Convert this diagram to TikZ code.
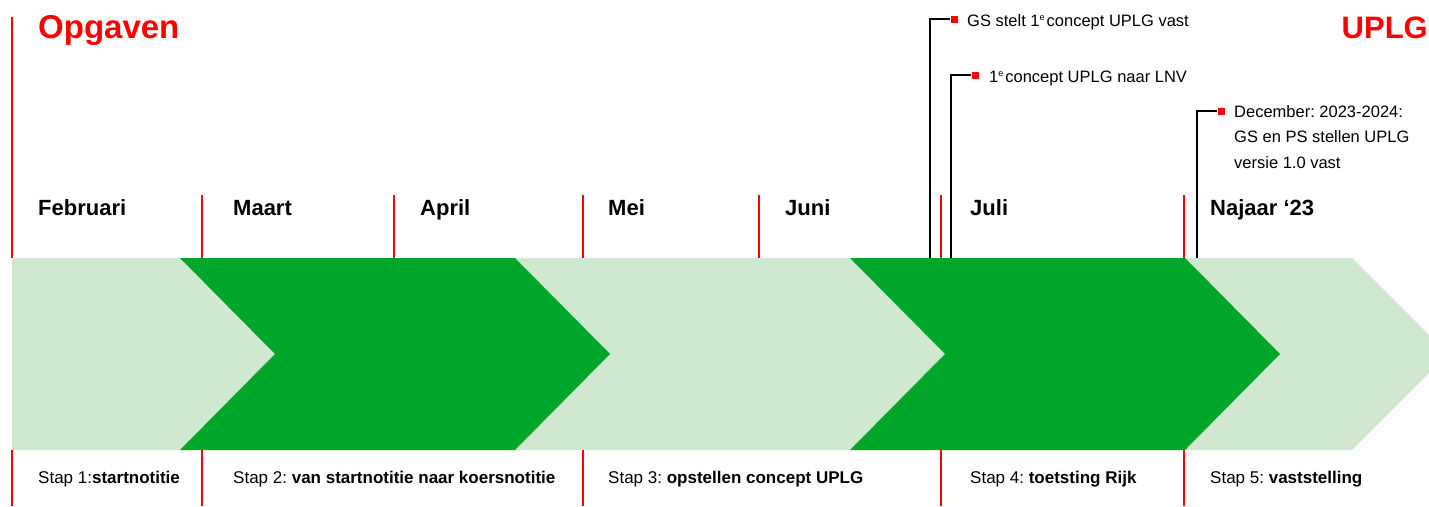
\documentclass[tikz,border=0pt]{standalone}
\usepackage{fontspec}
\setmainfont{Liberation Sans}
\frenchspacing
\definecolor{lightg}{HTML}{D1E8D0}
\definecolor{darkg}{HTML}{00A62A}
\definecolor{uplgred}{HTML}{FF0000}
\newcommand{\supe}{\raisebox{0.62ex}{\fontsize{9}{9}\selectfont e}}
\tikzset{
  redline/.style={draw=uplgred, line width=1.1pt},
  blackline/.style={draw=black, line width=1.1pt},
  month/.style={anchor=base west, inner sep=0pt, font=\fontsize{22}{26}\selectfont\bfseries},
  steplabel/.style={anchor=base west, inner sep=0pt, font=\fontsize{17}{20}\selectfont},
  note/.style={anchor=base west, inner sep=0pt, font=\fontsize{16.5}{25.5}\selectfont, align=left},
  title/.style={anchor=base west, inner sep=0pt, text=uplgred, font=\fontsize{33}{36}\selectfont\bfseries},
  marker/.style={fill=uplgred, inner sep=0pt, minimum size=7pt, draw=none},
}
\begin{document}
\begin{tikzpicture}[x=1pt,y=-1pt]
\useasboundingbox (0,0) rectangle (1429,506);
\clip (0,0) rectangle (1429,506);

% chevron band
\fill[lightg] (12,258) -- (1352,258) -- (1448,354) -- (1352,450) -- (12,450) -- cycle;
\fill[darkg] (180,258) -- (515,258) -- (610,354) -- (515,450) -- (180,450) -- (275,354) -- cycle;
\fill[darkg] (850,258) -- (1185,258) -- (1280,354) -- (1185,450) -- (850,450) -- (945,354) -- cycle;

% titles
\node[title] (opg) at (38,38) {Opgaven};
\node[title, anchor=base east, font=\fontsize{31}{34}\selectfont\bfseries] (uplg) at (1428,38) {UPLG};

% red separator lines
\draw[redline] (12,17) -- (12,258);
\foreach \x in {202,394,583,759,941,1184} \draw[redline] (\x,195) -- (\x,258);
\foreach \x in {12,202,583,941,1184} \draw[redline] (\x,450) -- (\x,506);

% months
\node[month] (feb) at (38,215) {Februari};
\node[month] (maa) at (233,215) {Maart};
\node[month] (apr) at (420,215) {April};
\node[month] (mei) at (608,215) {Mei};
\node[month] (jun) at (785,215) {Juni};
\node[month] (jul) at (970,215) {Juli};
\node[month] (naj) at (1210,215) {Najaar ‘23};

% steps
\node[steplabel] (s1) at (38,483) {Stap 1:\textbf{startnotitie}};
\node[steplabel] (s2) at (233,483) {Stap 2: \textbf{van startnotitie naar koersnotitie}};
\node[steplabel] (s3) at (608,483) {Stap 3: \textbf{opstellen concept UPLG}};
\node[steplabel] (s4) at (970,483) {Stap 4: \textbf{toetsting Rijk}};
\node[steplabel] (s5) at (1210,483) {Stap 5: \textbf{vaststelling}};

% annotations
\coordinate (b1) at (930,258);
\coordinate (b2) at (951,258);
\coordinate (b3) at (1197,258);
\node[marker] (m1) at (954,19) {};
\node[marker] (m2) at (975,75) {};
\node[marker] (m3) at (1221,111) {};
\draw[blackline] (b1) |- (m1.west);
\draw[blackline] (b2) |- (m2.west);
\draw[blackline] (b3) |- (m3.west);
\node[note] (n1) at (967,26) {GS stelt 1\supe\hspace{2pt}concept UPLG vast};
\node[note] (n2) at (989,82) {1\supe\hspace{2pt}concept UPLG naar LNV};
\node[note, anchor=north west] (n3) at (1234,105) {December: 2023-2024:\\GS en PS stellen UPLG\\versie 1.0 vast};
\end{tikzpicture}
\end{document}
